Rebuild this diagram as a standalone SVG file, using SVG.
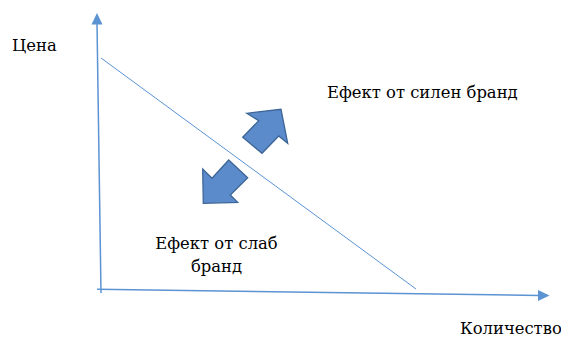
<svg xmlns="http://www.w3.org/2000/svg" width="561" height="337" viewBox="0 0 561 337">
<style>
.ax{stroke:#5b93d3;stroke-width:1.5;fill:none}
.diag{stroke:#5b93d3;stroke-width:1;fill:none}
.head{fill:#5b93d3;stroke:none}
.barrow{fill:#5b8bcb;stroke:#3d6596;stroke-width:1.3;stroke-linejoin:miter}
.t{font-family:'DejaVu Serif',serif;font-size:16.4px;fill:#000}
</style>
<rect width="561" height="337" fill="#fff"/>
<g id="connectors">
<line class="ax" x1="101" y1="293" x2="97" y2="23"/>
<polygon class="head" points="97,13 91.5,24.5 102.5,24.5"/>
<line class="ax" x1="97" y1="289.2" x2="539" y2="295.4"/>
<polygon class="head" points="549.5,295.5 538,290 538,301"/>
<line class="diag" x1="101" y1="58" x2="416" y2="289"/>
</g>
<g id="arrow-up-right">
<polygon class="barrow" points="246.7,113.3 281,109.3 287.7,143.3 278.7,136 262,153.3 242.7,137.3 258.7,120.7"/>
</g>
<g id="arrow-down-left">
<polygon class="barrow" points="228.7,160 247.7,177.7 230.3,195 237.7,202.3 203.3,203.3 202.7,169 212,178.3"/>
</g>
<g id="label-price"><text class="t" x="12" y="51">Цена</text></g>
<g id="label-strong"><text class="t" x="327" y="98">Ефект от силен бранд</text></g>
<g id="label-weak"><text class="t" x="216.5" y="249" text-anchor="middle">Ефект от слаб</text><text class="t" x="216.5" y="272" text-anchor="middle">бранд</text></g>
<g id="label-quantity"><text class="t" x="460" y="334">Количество</text></g>
</svg>
